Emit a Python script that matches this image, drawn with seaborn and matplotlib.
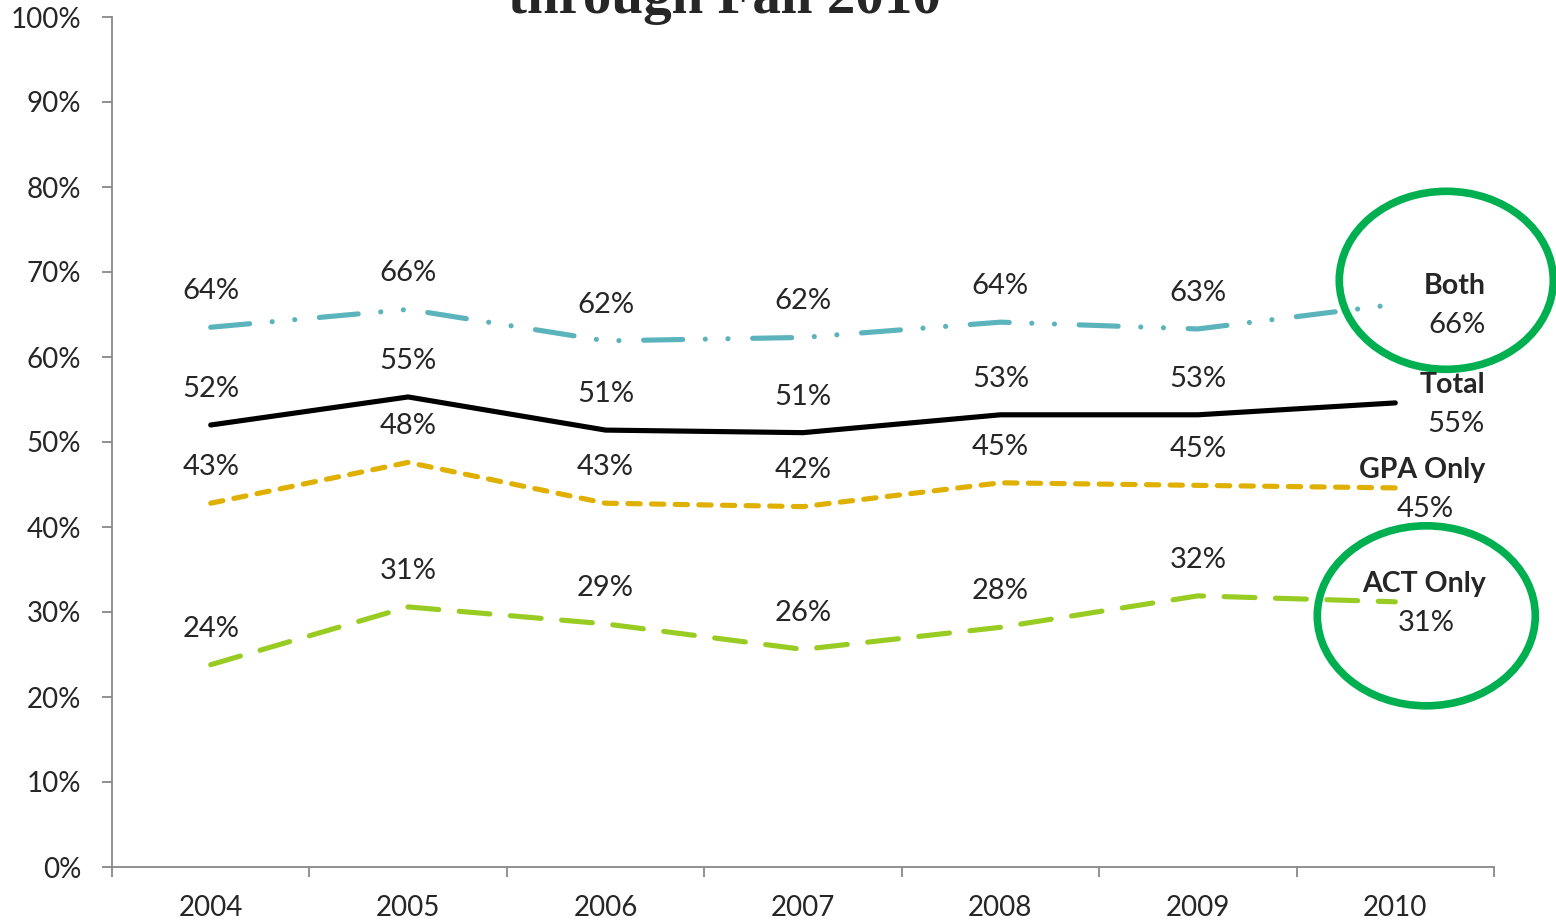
import numpy as np
import pandas as pd
import seaborn as sns
import matplotlib
matplotlib.use("Agg")
from matplotlib import pyplot as plt
from matplotlib.patches import Ellipse
from matplotlib.transforms import ScaledTranslation

years = [2004, 2005, 2006, 2007, 2008, 2009, 2010]
both = [63.5, 65.6, 61.9, 62.3, 64.1, 63.3, 66.2]
total = [52.0, 55.3, 51.4, 51.1, 53.2, 53.2, 54.6]
gpa_only = [42.8, 47.6, 42.8, 42.4, 45.2, 44.9, 44.6]
act_only = [23.8, 30.6, 28.6, 25.6, 28.2, 31.9, 31.2]
series_names = ["Both", "Total", "GPA Only", "ACT Only"]

df = pd.DataFrame({
    "year": years * 4,
    "value": both + total + gpa_only + act_only,
    "series": np.repeat(series_names, len(years)),
})

colors = {"Both": "#5BB3BC", "Total": "#000000", "GPA Only": "#E0B000", "ACT Only": "#99CC22"}
dashes = {"Both": (7.6, 4.4, 0.01, 4.4, 0.01, 4.8), "Total": "",
          "GPA Only": (2.4, 2.2), "ACT Only": (6, 4)}

sns.set_style("white")
plt.rcParams["font.family"] = ["Lato", "DejaVu Sans"]
plt.rcParams["lines.dash_capstyle"] = "round"
plt.rcParams["lines.solid_capstyle"] = "round"

fig = plt.figure(figsize=(15.56, 9.23), dpi=100)
ax = fig.add_axes([112 / 1556, 56 / 923, 1382 / 1556, 850 / 923])

sns.lineplot(data=df, x="year", y="value", hue="series", style="series",
             palette=colors, dashes=dashes, linewidth=3.7, legend=False, ax=ax)

ax.set_xlim(2003.5, 2010.5)
ax.set_ylim(0, 100)
ax.set_xlabel("")
ax.set_ylabel("")
ax.set_yticks(range(0, 101, 10))
ax.set_yticklabels([f"{v}%" for v in range(0, 101, 10)])
ax.set_xticks(years)
ax.set_xticklabels([str(y) for y in years])
ax.set_xticks(np.arange(2003.5, 2011, 1), minor=True)
ax.tick_params(axis="x", which="major", bottom=True, length=0, pad=20, labelsize=20)
ax.tick_params(axis="x", which="minor", bottom=True, length=7, width=1.3,
               color="#888888", direction="out")
ax.tick_params(axis="y", left=True, length=7, width=1.3, color="#888888",
               direction="out", pad=15, labelsize=20)
for s in ["top", "right"]:
    ax.spines[s].set_visible(False)
for s in ["left", "bottom"]:
    ax.spines[s].set_color("#888888")
    ax.spines[s].set_linewidth(1.3)

# value labels above points
for name, vals in zip(series_names, [both, total, gpa_only, act_only]):
    for yr, v in zip(years[:-1], vals[:-1]):
        ax.annotate(f"{v:.0f}%", (yr, v), xytext=(0, 26), textcoords="offset points",
                    ha="center", va="center", fontsize=21)

# end labels
fig.canvas.draw()
renderer = fig.canvas.get_renderer()
for name, vals in zip(series_names, [both, total, gpa_only, act_only]):
    v = vals[-1]
    t = ax.annotate(name, (years[-1], v), xytext=(65, 13), textcoords="offset points",
                    ha="right", va="center", fontsize=20.5, fontweight="bold")
    bb = t.get_window_extent(renderer)
    cx = (bb.x0 + bb.x1) / 2
    px, py = ax.transData.transform((years[-1], v))
    ax.annotate(f"{v:.0f}%", (years[-1], v), xytext=((cx - px) * 72 / 100 + 2, -15),
                textcoords="offset points", ha="center", va="center", fontsize=21)

# highlight circles
for v, dx, dy, w, h in [(both[-1], 51, 24, 214, 178), (act_only[-1], 31, -14, 218, 180)]:
    e = Ellipse((dx, dy), w, h, transform=ScaledTranslation(years[-1], v, ax.transData),
                fill=False, edgecolor="#00B050", linewidth=5.5, clip_on=False)
    ax.add_artist(e)

fig.text(725 / 1556, 1 - 13 / 923, "through Fall 2010", ha="center", va="baseline",
         fontsize=41, fontweight="bold", family="Liberation Serif")

fig.savefig("out.png", dpi=100)
